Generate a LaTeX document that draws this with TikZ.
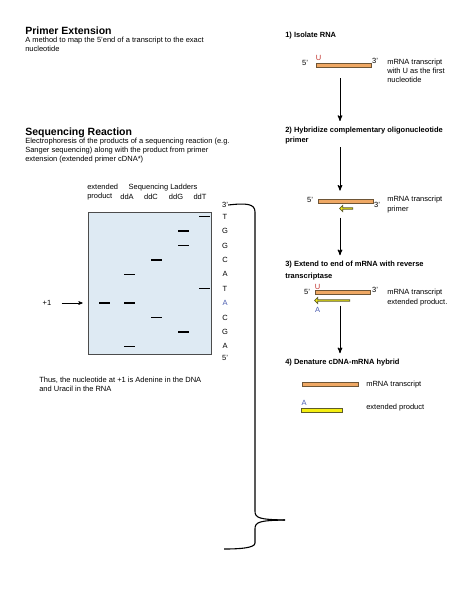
\documentclass[tikz,border=0pt]{standalone}
\usepackage{fontspec}
\setmainfont{Liberation Sans}
\usetikzlibrary{arrows,shapes.arrows}

\definecolor{gelblue}{HTML}{DEEAF3}
\definecolor{rnaorange}{HTML}{EFA864}
\definecolor{rnaedge}{HTML}{6E5536}
\definecolor{cdnayellow}{HTML}{F4EE10}
\definecolor{cdnaedge}{HTML}{5E5C28}
\definecolor{uracil}{HTML}{C0302A}
\definecolor{adenine}{HTML}{4A5CB0}

\begin{document}
\begin{tikzpicture}[x=1pt,y=-1pt,>=stealth',semithick,
                    every node/.style={font=\fontsize{7.5}{9}\selectfont,inner sep=0pt}]
  \tikzstyle{head}=[font=\fontsize{10.5}{12}\selectfont\bfseries,anchor=west]
  \tikzstyle{stepname}=[font=\fontsize{7.5}{9}\selectfont\bfseries,anchor=west,align=left]
  \tikzstyle{txt}=[anchor=north west,align=left]
  \tikzstyle{band}=[fill=black,minimum width=11pt,minimum height=1.5pt]
  \tikzstyle{mrna}=[draw=rnaedge,fill=rnaorange,line width=0.7pt,minimum height=4pt]
  \tikzstyle{cdna}=[draw=cdnaedge,fill=cdnayellow,line width=0.7pt,minimum height=4pt]
  \tikzstyle{cdnaarrow}=[cdna,single arrow,shape border rotate=180,
                         minimum height=4.5pt,single arrow head extend=1.2pt]
  \tikzstyle{flow}=[->,line width=1pt]

  \useasboundingbox[fill=white] (0,0) rectangle (463,599);

  % left column: headings and gel
  \node[head] (title) at (25,31) {Primer Extension};
  \node[txt] (intro) at (25,36.5)
    {A method to map the 5'end of a transcript to the exact\\nucleotide};
  \node[head] (seqtitle) at (25,133) {Sequencing Reaction};
  \node[txt] (seqtext) at (25,137.5)
    {Electrophoresis of the products of a sequencing reaction (e.g.\\
     Sanger sequencing) along with the product from primer\\
     extension (extended primer cDNA*)};

  \node[txt] (extlab) at (87,183.5) {extended\\product};
  \node (ladders) at (163,188) {Sequencing Ladders};
  \node (ddA) at (127,196.5) {ddA};
  \node (ddC) at (151,196.5) {ddC};
  \node (ddG) at (176,196.5) {ddG};
  \node (ddT) at (200,196.5) {ddT};

  \node[draw=black!70,fill=gelblue,minimum width=123pt,minimum height=142pt]
    (gel) at (149.5,283) {};

  \node (top) at (225,205) {3'};
  \foreach \b/\c [count=\i] in {T/black,G/black,G/black,C/black,A/black,
                                T/black,A/adenine,C/black,G/black,A/black}
    \node[text=\c] (r\i) at (225,202.3+14.4*\i) {\b};
  \node (bottom) at (225,358) {5'};

  % bands: lane x / row
  \foreach \x/\r in {104.5/7, 129/5, 129/7, 129/10, 156/4, 156/8,
                     183.5/2, 183.5/3, 183.5/9, 204/1, 204/6}
    \node[band] at (\x,202.3+14.4*\r) {};

  \node (plus) at (47,303) {+1};
  \draw[->] (plus) -- (gel.west |- plus) [shorten <=10pt,shorten >=5pt];

  \node[txt] (result) at (39,376.5)
    {Thus, the nucleotide at +1 is Adenine in the DNA\\and Uracil in the RNA};

  % brace
  \draw[line width=1.1pt] (top.east) .. controls (246,203) and (255,203.5) .. (255,212)
    -- (255,511) .. controls (255,518) and (259,519.5) .. (285,520);
  \draw[line width=1.1pt] (285,520) .. controls (259,520.5) and (255,522) .. (255,529)
    -- (255,543) .. controls (255,548) and (240,549) .. (224,549);

  % right column: the four steps
  \node[stepname] (s1) at (285,36) {1) Isolate RNA};
  \node[mrna,minimum width=55pt] (m1) at (343.5,65) {};
  \node (m1five) at (305,63) {5'};
  \node[text=uracil] (m1u) at (318.5,58) {U};
  \node (m1three) at (375,61) {3'};
  \node[txt] (m1lab) at (387,59) {mRNA transcript\\with U as the first\\nucleotide};

  \node[stepname] (s2) at (285,135.5)
    {2) Hybridize complementary oligonucleotide\\[0.5pt]primer};
  \node[mrna,minimum width=55pt] (m2) at (345.5,201) {};
  \node (m2five) at (310,200) {5'};
  \node (m2three) at (377,205) {3'};
  \node[cdnaarrow,minimum width=6pt,minimum height=13pt] (p2) at (346.5,208.5) {};
  \node[anchor=west] (m2lab) at (387,200) {mRNA transcript};
  \node[anchor=west] (p2lab) at (387,209.5) {primer};

  \node[stepname] (s3) at (285,271)
    {3) Extend to end of mRNA with reverse\\[3pt]transcriptase};
  \node[mrna,minimum width=55pt] (m3) at (342.5,292.5) {};
  \node (m3five) at (307,292) {5'};
  \node[text=uracil] (m3u) at (317.5,287) {U};
  \node (m3three) at (375,290) {3'};
  \node[cdnaarrow,minimum width=6pt,minimum height=35pt] (e3) at (332.5,300.5) {};
  \node[text=adenine] (e3a) at (317.5,310) {A};
  \node[anchor=west] (m3lab) at (387,293) {mRNA transcript};
  \node[anchor=west] (e3lab) at (387,302.5) {extended product.};

  \node[stepname] (s4) at (285,363) {4) Denature cDNA-mRNA hybrid};
  \node[mrna,minimum width=56pt] (m4) at (330,384.5) {};
  \node[anchor=west] (m4lab) at (366,385) {mRNA transcript};
  \node[text=adenine] (e4a) at (304,402.5) {A};
  \node[cdna,minimum width=41pt] (e4) at (321.5,410) {};
  \node[anchor=west] (e4lab) at (366,407.5) {extended product};

  % arrows between the steps
  \coordinate (col) at (340,0);
  \draw[flow] ([yshift=-11pt]col |- m1.south) -- ([yshift=6pt]col |- s2.north);
  \draw[flow] ([yshift=-3pt]col |- s2.south) -- ([yshift=8pt]col |- m2.north);
  \draw[flow] ([yshift=-8pt]col |- p2.south) -- ([yshift=6pt]col |- s3.north);
  \draw[flow] ([yshift=-4pt]col |- e3.south) -- ([yshift=6pt]col |- s4.north);
\end{tikzpicture}
\end{document}
